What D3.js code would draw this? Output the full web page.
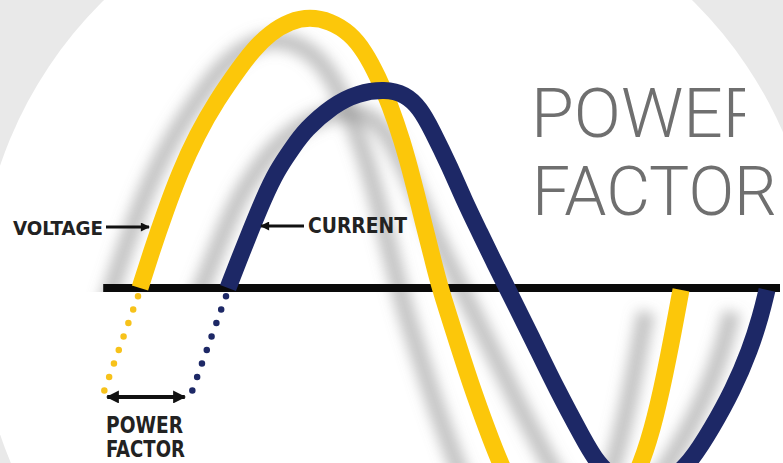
<!DOCTYPE html>
<html><head><meta charset="utf-8">
<script src="https://cdn.jsdelivr.net/npm/d3@7"></script>
<style>html,body{margin:0;padding:0;background:#e9e9e9;overflow:hidden}svg{display:block}</style>
</head><body><svg id="c" width="783" height="463"></svg>
<script>
// ---- data (time in ms, amplitude normalised to voltage peak) ----
const voltageTime = [1.000,1.300,1.625,2.000,2.425,2.925,3.500,3.825,4.250,4.750,5.250,5.750,6.250,6.625,6.950,7.250,7.550,7.825,8.100,8.325,8.500,8.875,9.275,9.700,10.000,10.500,11.125,11.750,12.450,13.050,13.550,13.875,14.200,14.525];
const voltageAmp  = [0,0.140,0.280,0.428,0.565,0.694,0.815,0.878,0.941,0.985,1.000,0.985,0.941,0.871,0.779,0.675,0.546,0.399,0.232,0.103,0,-0.173,-0.358,-0.531,-0.646,-0.801,-0.930,-1.000,-0.941,-0.801,-0.646,-0.487,-0.266,-0.007];
const currentTime = [3.200,3.450,3.750,4.075,4.425,4.825,5.125,5.825,6.450,7.125,7.625,8.000,8.300,8.750,9.100,9.500,9.850,10.200,10.825,11.425,12.100,12.425,12.950,13.600,14.200,14.750,15.300,15.825,16.250,16.525,16.675];
const currentAmp  = [0,0.096,0.207,0.325,0.435,0.520,0.583,0.675,0.720,0.734,0.716,0.664,0.583,0.446,0.325,0.203,0.096,-0.007,-0.192,-0.376,-0.561,-0.646,-0.716,-0.738,-0.716,-0.646,-0.517,-0.376,-0.229,-0.100,-0.007];
// dotted extensions below the axis (towards the power-factor marker)
const voltageLeadTime = [0.95, 0.05];
const voltageLeadAmp  = [-0.03, -0.402];
const currentLeadTime = [3.15, 2.25];
const currentLeadAmp  = [-0.03, -0.402];
const pfSpanTime = [0.18, 2.12];
const pfSpanAmp = -0.402;
const axisTime = [0.08, 17];
const seriesNames = ["VOLTAGE", "CURRENT"];
const smallTitle = ["POWER", "FACTOR"];
const bigTitle = ["POWER", "FACTOR"];

const W = 783, H = 463;
const svg = d3.select("#c");
const x = d3.scaleLinear().domain([0, 17]).range([100, 780]);
const y = d3.scaleLinear().domain([-1, 1]).range([559, 17]);

const defs = svg.append("defs");
const f = defs.append("filter").attr("id","blur").attr("filterUnits","userSpaceOnUse")
  .attr("x",-200).attr("y",-200).attr("width",1200).attr("height",900);
f.append("feGaussianBlur").attr("stdDeviation",6.5);
defs.append("clipPath").attr("id","shClip").append("path")
  .attr("d", `M0,0H${W}V${H}H300V292H0Z`);
defs.append("clipPath").attr("id","titleClip").append("rect")
  .attr("x",0).attr("y",0).attr("width",745).attr("height",H);
function marker(id, w, h){
  defs.append("marker").attr("id",id).attr("viewBox","0 0 10 10")
    .attr("refX",9).attr("refY",5).attr("markerUnits","userSpaceOnUse")
    .attr("markerWidth",w).attr("markerHeight",h).attr("orient","auto-start-reverse")
    .append("path").attr("d","M0,0L10,5L0,10z").attr("fill","#111");
}
marker("ah", 11, 9);
marker("ah2", 13, 13);

// background circle
svg.append("rect").attr("width",W).attr("height",H).attr("fill","#e9e9e9");
svg.append("circle").attr("cx",398).attr("cy",300).attr("r",420).attr("fill","#ffffff");

const line = d3.line().x(d=>x(d[0])).y(d=>y(d[1])).curve(d3.curveBasis);
const vPts = voltageTime.map((t,i)=>[t, voltageAmp[i]]);
const cPts = currentTime.map((t,i)=>[t, currentAmp[i]]);

// shadows
const sh = svg.append("g").attr("clip-path","url(#shClip)")
  .append("g").attr("transform","translate(-35,22)").attr("filter","url(#blur)");
[vPts, cPts].forEach(p => sh.append("path").attr("d", line(p)).attr("fill","none")
  .attr("stroke","#8a8a8a").attr("stroke-opacity",0.5).attr("stroke-width",18));

// axis
svg.append("line").attr("x1",x(axisTime[0])).attr("x2",x(axisTime[1]))
  .attr("y1",y(0)).attr("y2",y(0)).attr("stroke","#0a0a0a").attr("stroke-width",8);

// dotted leads
[[voltageLeadTime, voltageLeadAmp, "#f7c21a"],[currentLeadTime, currentLeadAmp, "#1d2866"]].forEach(([t,a,c])=>{
  svg.append("line").attr("x1",x(t[0])).attr("y1",y(a[0])).attr("x2",x(t[1])).attr("y2",y(a[1]))
    .attr("stroke",c).attr("stroke-width",6.5).attr("stroke-linecap","round")
    .attr("stroke-dasharray","0 14.3");
});

// waves
svg.append("path").attr("d", line(vPts)).attr("fill","none").attr("stroke","#fcc70a").attr("stroke-width",17);
svg.append("path").attr("d", line(cPts)).attr("fill","none").attr("stroke","#1d2866").attr("stroke-width",17);

// power factor span arrow
svg.append("line").attr("x1",x(pfSpanTime[0])).attr("x2",x(pfSpanTime[1]))
  .attr("y1",y(pfSpanAmp)).attr("y2",y(pfSpanAmp)).attr("stroke","#111").attr("stroke-width",4)
  .attr("marker-start","url(#ah2)").attr("marker-end","url(#ah2)");

// label arrows
svg.append("line").attr("x1",106).attr("y1",227).attr("x2",149).attr("y2",227)
  .attr("stroke","#111").attr("stroke-width",3).attr("marker-end","url(#ah)");
svg.append("line").attr("x1",304).attr("y1",226).attr("x2",261).attr("y2",226)
  .attr("stroke","#111").attr("stroke-width",3).attr("marker-end","url(#ah)");

const lab = {"font-family":"'DejaVu Sans Condensed','DejaVu Sans',sans-serif","font-weight":"bold","fill":"#222"};
function txt(s, xx, yy, size, len, st){
  const t = svg.append("text").attr("x",xx).attr("y",yy).attr("font-size",size)
    .attr("textLength",len).attr("lengthAdjust","spacingAndGlyphs").text(s);
  Object.entries(st).forEach(([k,v])=>t.attr(k,v));
  return t;
}
txt(seriesNames[0], 13, 235, 20, 90, lab);
txt(seriesNames[1], 308, 233, 21, 99, lab);
txt(smallTitle[0], 106, 433, 23, 77, lab);
txt(smallTitle[1], 106, 457, 23, 79, lab);

const big = {"font-family":"Roboto,'Open Sans',sans-serif","font-weight":"300","fill":"#6f6f6f"};
txt(bigTitle[0], 531, 137, 68, 236, big).attr("clip-path","url(#titleClip)");
txt(bigTitle[1], 532, 215, 68, 245, big);
</script></body></html>
